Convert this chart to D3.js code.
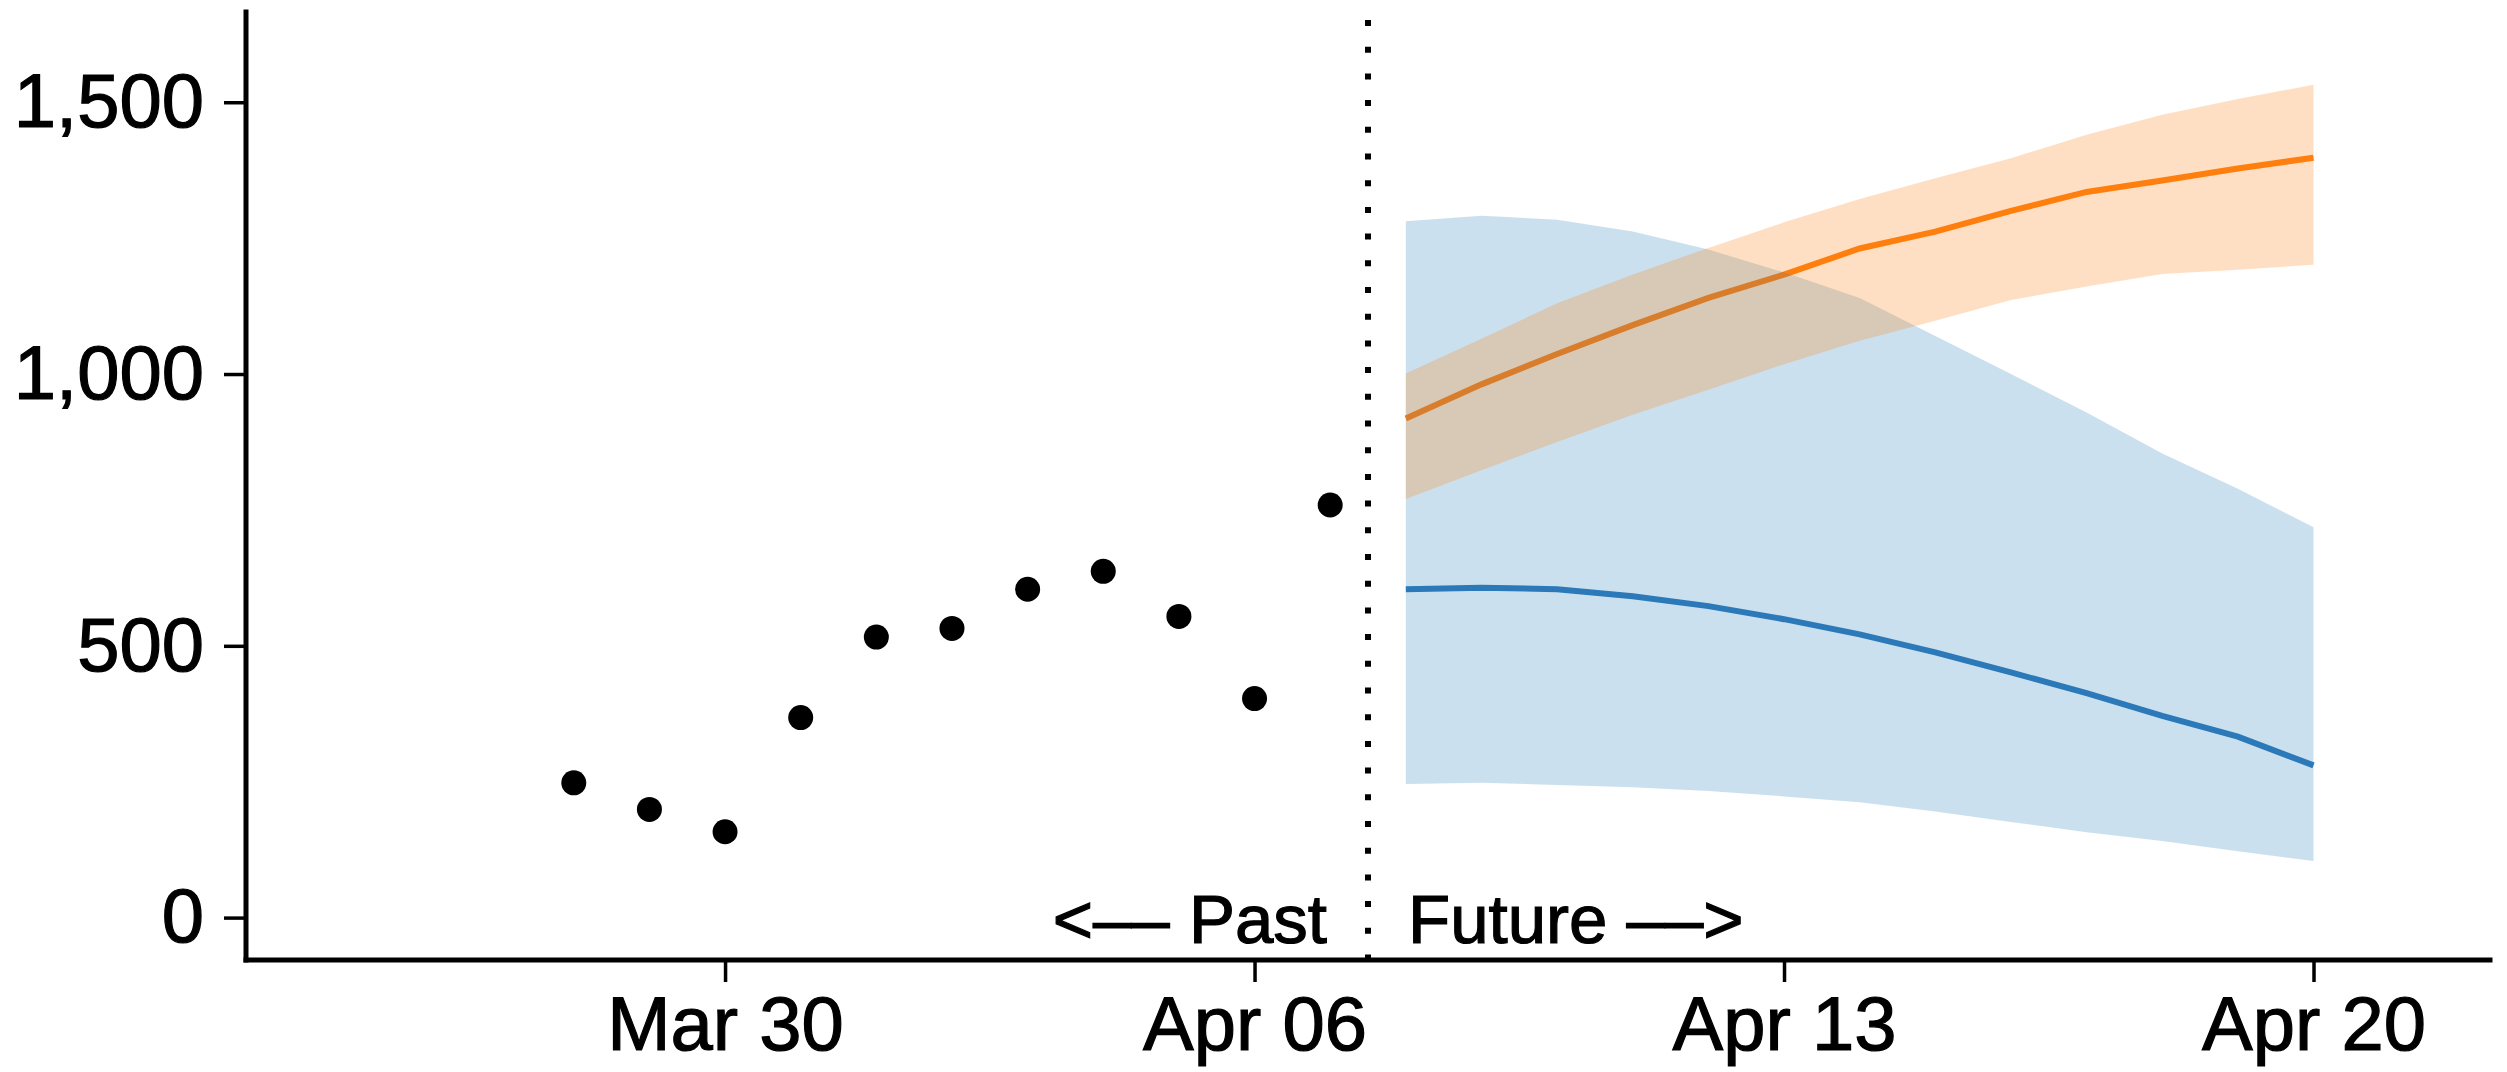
<!DOCTYPE html>
<html>
<head>
<meta charset="utf-8">
<script src="https://cdn.jsdelivr.net/npm/d3@7"></script>
<style>
  body { margin: 0; background: #fff; }
  text { font-family: "Liberation Sans", Arial, Helvetica, sans-serif; fill: #000; stroke: #000; stroke-width: 1.2px; }
</style>
</head>
<body>
<script>
const w = 2507;
const h = 1072;

const plotLeft = 246;
const plotRight = 2490;
const plotTop = 12;
const plotBottom = 960;

// observed counts, one per day
const pastDates = ["2020-03-28", "2020-03-29", "2020-03-30", "2020-03-31", "2020-04-01", "2020-04-02",
  "2020-04-03", "2020-04-04", "2020-04-05", "2020-04-06", "2020-04-07"];
const pastValues = [248, 199, 158, 368, 516, 532, 604, 637, 554, 403, 759];

// forecasts from two models
const futureDates = ["2020-04-08", "2020-04-09", "2020-04-10", "2020-04-11", "2020-04-12", "2020-04-13",
  "2020-04-14", "2020-04-15", "2020-04-16", "2020-04-17", "2020-04-18", "2020-04-19", "2020-04-20"];
const blueMedian = [604, 607, 604, 591, 573, 549, 521, 488, 451, 413, 371, 333, 280];
const blueLower = [246, 248, 244, 240, 233, 223, 212, 195, 176, 157, 141, 122, 104];
const blueUpper = [1281, 1291, 1284, 1262, 1229, 1187, 1140, 1070, 1000, 929, 854, 789, 718];
const orangeMedian = [918, 981, 1037, 1090, 1140, 1183, 1231, 1262, 1300, 1335, 1356, 1378, 1398];
const orangeLower = [770, 823, 875, 925, 971, 1018, 1061, 1098, 1136, 1161, 1184, 1192, 1201];
const orangeUpper = [1001, 1065, 1130, 1183, 1232, 1279, 1322, 1360, 1397, 1440, 1477, 1506, 1532];

const xTicks = ["2020-03-30", "2020-04-06", "2020-04-13", "2020-04-20"];
const yTicks = [0, 500, 1000, 1500];
const splitDate = "2020-04-07T12:00:00Z";

const parse = s => new Date(s.length === 10 ? s + "T00:00:00Z" : s);

const svg = d3.select("body").append("svg").attr("width", w).attr("height", h);

const xScale = d3.scaleUtc()
  .domain([parse("2020-03-23T16:00:00Z"), parse("2020-04-22T08:00:00Z")])
  .range([plotLeft, plotRight]);

const yScale = d3.scaleLinear()
  .domain([-78, 1666])
  .range([plotBottom, plotTop]);

function series(med, lo, hi) {
  return futureDates.map((d, i) => ({ date: parse(d), med: med[i], lo: lo[i], hi: hi[i] }));
}
const blue = series(blueMedian, blueLower, blueUpper);
const orange = series(orangeMedian, orangeLower, orangeUpper);

const line = d3.line().x(d => xScale(d.date)).y(d => yScale(d.med));
const band = d3.area().x(d => xScale(d.date)).y0(d => yScale(d.lo)).y1(d => yScale(d.hi));

svg.append("path").datum(orange).attr("d", line)
  .attr("fill", "none").attr("stroke", "#ff7f0e").attr("stroke-width", 6);
svg.append("path").datum(blue).attr("d", line)
  .attr("fill", "none").attr("stroke", "#2f7ab9").attr("stroke-width", 6);
svg.append("path").datum(blue).attr("d", band)
  .attr("fill", "#1f77b4").attr("fill-opacity", 0.23);
svg.append("path").datum(orange).attr("d", band)
  .attr("fill", "#ff7f0e").attr("fill-opacity", 0.25);

// past / future divider
svg.append("line")
  .attr("x1", xScale(parse(splitDate))).attr("x2", xScale(parse(splitDate)))
  .attr("y1", plotTop + 8).attr("y2", plotBottom)
  .attr("stroke", "#000").attr("stroke-width", 6).attr("stroke-dasharray", "6,20.7");

svg.append("g").selectAll("circle")
  .data(pastDates)
  .enter()
  .append("circle")
  .attr("cx", d => xScale(parse(d)))
  .attr("cy", (d, i) => yScale(pastValues[i]))
  .attr("r", 12.5)
  .attr("fill", "#000");

svg.append("text")
  .attr("x", xScale(parse(splitDate)) - 41)
  .attr("y", plotBottom - 17)
  .attr("text-anchor", "end")
  .style("font-size", "69px")
  .text("<–– Past");

svg.append("text")
  .attr("x", xScale(parse(splitDate)) + 40)
  .attr("y", plotBottom - 17)
  .style("font-size", "69px")
  .text("Future ––>");

// axes
const xAxis = d3.axisBottom(xScale)
  .tickValues(xTicks.map(parse))
  .tickFormat(d3.utcFormat("%b %d"))
  .tickSize(22)
  .tickPadding(14);

const yAxis = d3.axisLeft(yScale)
  .tickValues(yTicks)
  .tickFormat(d3.format(","))
  .tickSize(22)
  .tickPadding(20);

const gx = svg.append("g").attr("transform", "translate(0," + plotBottom + ")").call(xAxis);
const gy = svg.append("g").attr("transform", "translate(" + plotLeft + ",0)").call(yAxis);

[gx, gy].forEach(g => {
  g.select(".domain").remove();
  g.selectAll(".tick line").attr("stroke", "#000").attr("stroke-width", 3.5);
  g.selectAll(".tick text").style("font-size", "76px").attr("fill", "#000");
});

svg.append("line")
  .attr("x1", plotLeft).attr("x2", plotRight).attr("y1", plotBottom).attr("y2", plotBottom)
  .attr("stroke", "#000").attr("stroke-width", 5).attr("stroke-linecap", "square");
svg.append("line")
  .attr("x1", plotLeft).attr("x2", plotLeft).attr("y1", plotTop).attr("y2", plotBottom)
  .attr("stroke", "#000").attr("stroke-width", 5).attr("stroke-linecap", "square");
</script>
</body>
</html>
